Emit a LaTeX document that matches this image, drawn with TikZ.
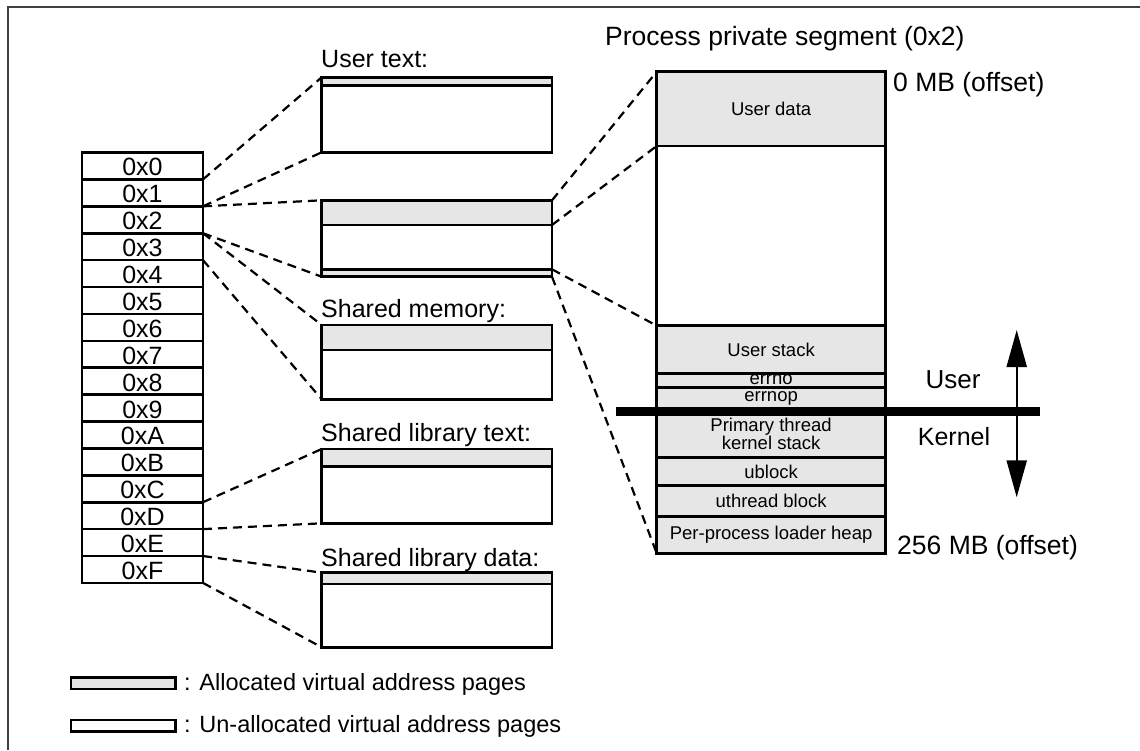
\documentclass[tikz,border=0pt]{standalone}
\usepackage{fontspec}
\setmainfont{Liberation Sans}
\usetikzlibrary{arrows.meta}
\definecolor{pagegray}{RGB}{230,230,230}

\begin{document}
\begin{tikzpicture}
    [x=1pt, y=-1pt,
    big/.style={font=\fontsize{25pt}{30pt}\selectfont},
    small/.style={font=\fontsize{18.5pt}{17pt}\selectfont},
    seg/.style={draw, line width=2.6pt, minimum width=121pt, minimum height=26.9pt,
        inner sep=0pt, outer sep=0pt, anchor=north west, text height=20pt, text depth=0pt, big},
    part/.style={draw, line width=2.6pt, minimum width=230.3pt, inner sep=0pt,
        outer sep=0pt, anchor=north west},
    stack/.style={part, minimum width=228.8pt, fill=pagegray},
    alloc/.style={fill=pagegray},
    link/.style={line width=2.2pt, dash pattern=on 9pt off 6pt},
    title/.style={big, anchor=base west, inner sep=0pt}]

    \useasboundingbox (0,0) rectangle (1140,750);

    % frame
    \draw[line width=1.5pt, black!75] (8,750) -- (8,7) -- (1140,7);

    % segment registers
    \foreach \h [count=\i from 0] in {0,1,2,3,4,5,6,7,8,9,A,B,C,D,E,F}
        \node[seg] (r\i) at (82,{152.5+26.9*\i}) {0x\h};

    % segments
    \node[title] (utl) at (321,67.5) {User text:};
    \node[part, alloc, minimum height=8pt] (uta) at (321.7,77.3) {};
    \node[part, minimum height=67pt] (utb) at (321.7,85.3) {};

    \node[part, alloc, minimum height=24.7pt] (pva) at (321.7,200.3) {};
    \node[part, minimum height=44.3pt] (pvb) at (321.7,225) {};
    \node[part, alloc, minimum height=7.4pt] (pvc) at (321.7,269.3) {};

    \node[title] (sml) at (321,317.5) {Shared memory:};
    \node[part, alloc, minimum height=25pt] (sma) at (321.7,325) {};
    \node[part, minimum height=49.3pt] (smb) at (321.7,350) {};

    \node[title] (ltl) at (321,441.5) {Shared library text:};
    \node[part, alloc, minimum height=17.7pt] (lta) at (321.7,449) {};
    \node[part, minimum height=56.6pt] (ltb) at (321.7,466.7) {};

    \node[title] (ldl) at (321,566.5) {Shared library data:};
    \node[part, alloc, minimum height=11.3pt] (lda) at (321.7,572.7) {};
    \node[part, minimum height=63.3pt] (ldb) at (321.7,584) {};

    % process private segment
    \node[title, font=\fontsize{26.5pt}{30pt}\selectfont] (ppl) at (605,45) {Process private segment (0x2)};
    \node[stack, minimum height=74.3pt, label={[small]center:User data}] (ud) at (656.7,71.7) {};
    \node[stack, fill=white, minimum height=179.7pt] (uw) at (656.7,146) {};
    \node[stack, minimum height=47.6pt, label={[small]center:User stack}] (us) at (656.7,325.7) {};
    \node[stack, minimum height=14pt, label={[small, yshift=1pt]center:errno}] (en) at (656.7,373.3) {};
    \node[stack, minimum height=23.7pt, label={[small, yshift=1pt]center:errnop}] (ep) at (656.7,387.3) {};
    \node[stack, minimum height=46.3pt,
        label={[small, align=center]center:{Primary thread\\kernel stack}}] (pk) at (656.7,411) {};
    \node[stack, minimum height=28.4pt, label={[small]center:ublock}] (ub) at (656.7,457.3) {};
    \node[stack, minimum height=31pt, label={[small]center:uthread block}] (tb) at (656.7,485.7) {};
    \node[stack, minimum height=36.6pt, label={[small]center:Per-process loader heap}] (lh) at (656.7,516.7) {};

    \node[title, font=\fontsize{26.5pt}{30pt}\selectfont] (top) at (893,91) {0 MB (offset)};
    \node[title, font=\fontsize{26.5pt}{30pt}\selectfont] (bot) at (897,554) {256 MB (offset)};

    % user / kernel boundary
    \coordinate (barL) at (616,411);
    \coordinate (barR) at (1040,411);
    \draw[line width=9pt] (barL) -- (barR);
    \coordinate (up) at (1016.7,330);
    \coordinate (dn) at (1016.7,497.3);
    \draw[line width=2.2pt, {Triangle[width=20pt,length=37pt]}-{Triangle[width=20pt,length=37pt]}] (up) -- (dn);
    \node[big, font=\fontsize{26pt}{30pt}\selectfont] (usr) at (953,380) {User};
    \node[big] (krn) at (954,437) {Kernel};

    % dashed mappings
    \draw[link] (r1.north east) -- (uta.north west);
    \draw[link] (r1.south east) -- (utb.south west);
    \draw[link] (r2.north east) -- (pva.north west);
    \draw[link] (r2.south east) -- (pvc.south west);
    \draw[link] (r3.north east) -- (sma.north west);
    \draw[link] (r3.south east) -- (smb.south west);
    \draw[link] (r13.north east) -- (lta.north west);
    \draw[link] (r13.south east) -- (ltb.south west);
    \draw[link] (r15.north east) -- (lda.north west);
    \draw[link] (r15.south east) -- (ldb.south west);
    \draw[link] (pva.north east) -- (ud.north west);
    \draw[link] (pva.south east) -- (ud.south west);
    \draw[link] (pvc.north east) -- (us.north west);
    \draw[link] (pvc.south east) -- (lh.south west);

    % legend
    \node[part, alloc, minimum width=104.7pt, minimum height=11.7pt] (keya) at (71,677.3) {};
    \node[part, minimum width=104.7pt, minimum height=11.7pt] (keyu) at (71,720) {};
    \node[title, font=\fontsize{23.5pt}{28pt}\selectfont] (keyat) at (184,690) {: Allocated virtual address pages};
    \node[title, font=\fontsize{23.5pt}{28pt}\selectfont] (keyut) at (184,732.5) {: Un-allocated virtual address pages};

\end{tikzpicture}
\end{document}
